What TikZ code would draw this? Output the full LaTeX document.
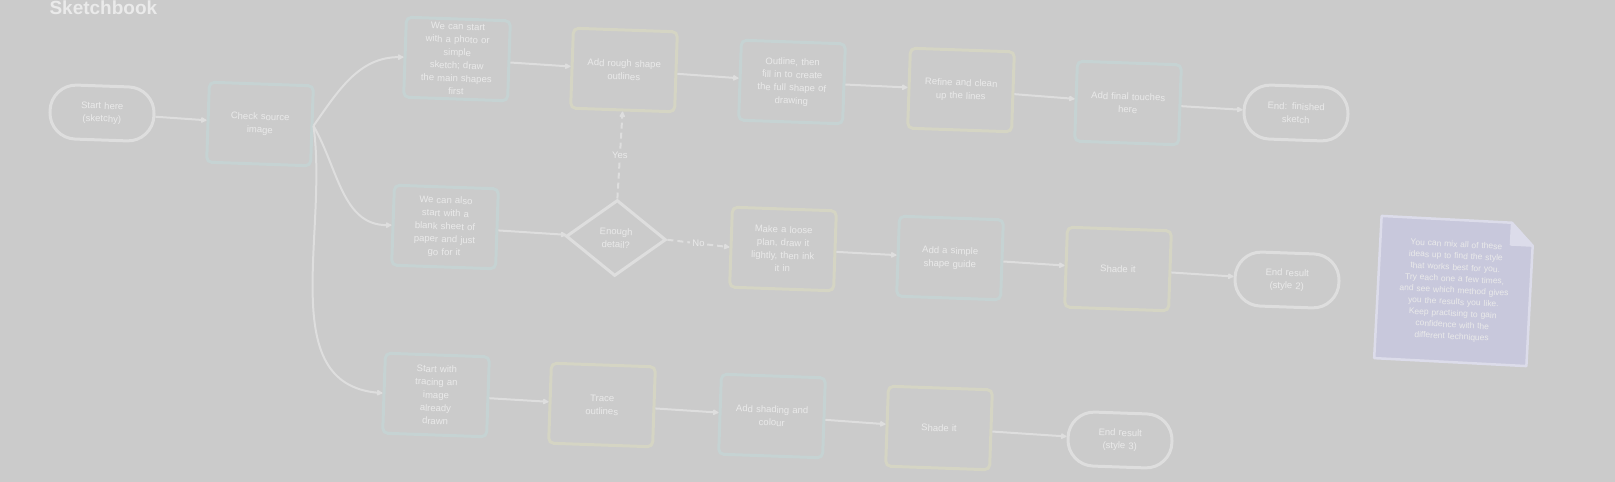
\documentclass[tikz,border=0pt]{standalone}
\usepackage{fontspec}
\newfontfamily\sketchfont{Liberation Sans}
\usetikzlibrary{calc,arrows.meta,shapes.geometric,backgrounds}

\definecolor{bgcol}{HTML}{CBCBCB}
\definecolor{bluecol}{HTML}{C6D3D3}
\definecolor{yellowcol}{HTML}{D5D5C4}
\definecolor{linecol}{HTML}{DEDEDE}
\definecolor{textcol}{HTML}{EAEAEA}
\definecolor{notefill}{HTML}{C8C8DC}
\definecolor{noteline}{HTML}{DCDCEA}

\tikzset{
  card/.style={draw, line width=3pt, rounded corners=5pt, minimum width=104pt,
    minimum height=80pt, text width=84pt, align=center, text=textcol,
    font=\sketchfont\fontsize{9.5}{13}\selectfont, inner sep=2pt, rotate=-2},
  bluecard/.style={card, draw=bluecol},
  yellowcard/.style={card, draw=yellowcol},
  terminal/.style={card, draw=linecol, rounded corners=26pt, minimum height=54pt},
  choice/.style={diamond, draw=linecol, line width=3pt, minimum width=100pt,
    minimum height=76pt, inner sep=0pt, text width=50pt, align=center,
    text=textcol, font=\sketchfont\fontsize{9.5}{13}\selectfont, rotate=-2},
  flow/.style={draw=linecol, line width=2pt, -{Latex[length=7pt,width=7pt,round]}},
  optional/.style={flow, dash pattern=on 6pt off 4pt},
  tag/.style={fill=bgcol, text=textcol, inner sep=2pt, font=\sketchfont\fontsize{9.5}{11}\selectfont}
}

\begin{document}
\begin{tikzpicture}[x=1pt,y=1pt]
  \useasboundingbox (0,0) rectangle (1615,-482);
  \node[anchor=base west, text=textcol, font=\sketchfont\bfseries\fontsize{19}{22}\selectfont] (title) at (46,-14) {Sketchbook};

  % top row
  \node[terminal] (start) at (102,-113) {Start here\\(sketchy)};
  \node[bluecard] (check) at (260,-124) {Check source\\image};
  \node[bluecard] (photo) at (457,-59) {We can start\\with a photo or\\simple\\sketch; draw\\the main shapes\\first};
  \node[yellowcard] (shape) at (624,-70) {Add rough shape\\outlines};
  \node[bluecard] (outline) at (792,-82) {Outline, then\\fill in to create\\the full shape of\\drawing};
  \node[yellowcard] (refine) at (961,-90) {Refine and clean\\up the lines};
  \node[bluecard] (touch) at (1128,-103) {Add final touches\\here};
  \node[terminal] (endA) at (1296,-113) {End: finished\\sketch};

  % middle row
  \node[bluecard] (blank) at (445,-227) {We can also\\start with a\\blank sheet of\\paper and just\\go for it};
  \node[choice] (decide) at (616,-238) {Enough\\detail?};
  \node[yellowcard] (plan) at (783,-249) {Make a loose\\plan, draw it\\lightly, then ink\\it in};
  \node[bluecard] (guide) at (950,-258) {Add a simple\\shape guide};
  \node[yellowcard] (shadeB) at (1118,-269) {Shade it};
  \node[terminal] (endB) at (1287,-280) {End result\\(style 2)};

  % bottom row
  \node[bluecard] (trace) at (436,-395) {Start with\\tracing an\\image\\already\\drawn};
  \node[yellowcard] (lines) at (602,-405) {Trace\\outlines};
  \node[bluecard] (colour) at (772,-416) {Add shading and\\colour};
  \node[yellowcard] (shadeC) at (939,-428) {Shade it};
  \node[terminal] (endC) at (1120,-440) {End result\\(style 3)};

  % note
  \node[rotate=-3, minimum width=152pt, minimum height=142pt, text width=138pt, align=center,
    text=textcol, font=\sketchfont\fontsize{8.5}{11.5}\selectfont] (note) at (1454,-291)
    {You can mix all of these\\ideas up to find the style\\that works best for you.\\Try each one a few times,\\and see which method gives\\you the results you like.\\Keep practising to gain\\confidence with the\\different techniques};
  \coordinate (foldA) at ($(note.north east)!22pt!(note.north west)$);
  \coordinate (foldB) at ($(note.north east)!22pt!(note.south east)$);
  \begin{scope}[on background layer]
    \fill[bgcol] (0,0) rectangle (1615,-482);
    \filldraw[fill=notefill, draw=noteline, line width=2.5pt, line join=round]
      (note.north west) -- (foldA) -- (foldB) -- (note.south east) -- (note.south west) -- cycle;
    \filldraw[fill=noteline, draw=noteline, line width=2pt, line join=round]
      (foldA) -- (foldB) -- ($(foldA)+(foldB)-(note.north east)$) -- cycle;
  \end{scope}

  % connectors
  \draw[flow] (start) -- (check);
  \draw[flow] (check.east) to[out=55,in=180] (photo.west);
  \draw[flow] (check.east) to[out=-60,in=180] (blank.west);
  \draw[flow] (check.east) to[out=-82,in=175] (trace.west);
  \draw[flow] (photo) -- (shape);
  \draw[flow] (shape) -- (outline);
  \draw[flow] (outline) -- (refine);
  \draw[flow] (refine) -- (touch);
  \draw[flow] (touch) -- (endA);
  \draw[flow] (blank) -- (decide);
  \draw[optional] (decide.north) -- node[tag] {Yes} (shape.south);
  \draw[optional] (decide.east) -- node[tag] {No} (plan.west);
  \draw[flow] (plan) -- (guide);
  \draw[flow] (guide) -- (shadeB);
  \draw[flow] (shadeB) -- (endB);
  \draw[flow] (trace) -- (lines);
  \draw[flow] (lines) -- (colour);
  \draw[flow] (colour) -- (shadeC);
  \draw[flow] (shadeC) -- (endC);
\end{tikzpicture}
\end{document}
